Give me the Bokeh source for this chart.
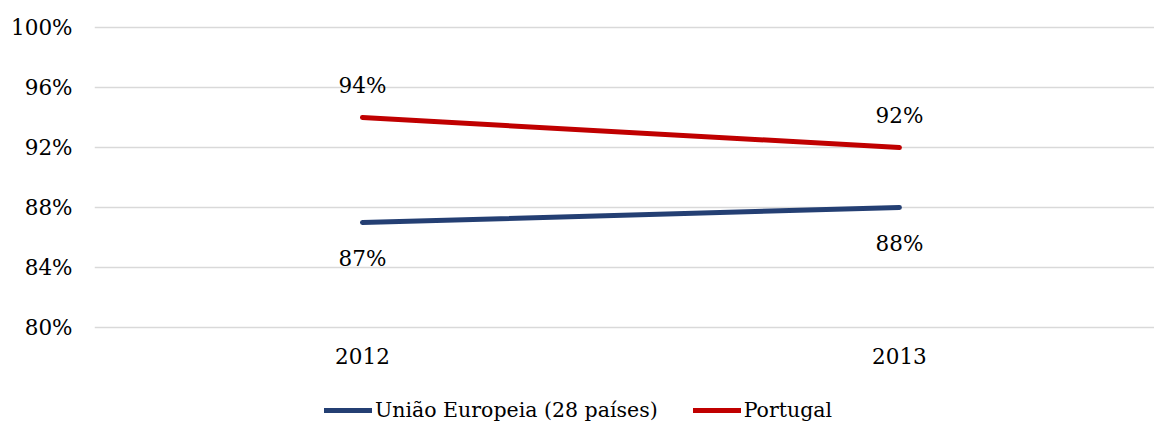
from bokeh.plotting import figure
from bokeh.layouts import column
from bokeh.models import FixedTicker, Range1d, Legend, LegendItem, ColumnDataSource
from bokeh.embed import file_html
from bokeh.resources import INLINE
from bokeh.core.properties import value

years = ["2012", "2013"]
eu_values = [87, 88]
pt_values = [94, 92]
y_ticks = [80, 84, 88, 92, 96, 100]
series_names = ["União Europeia (28 países)", "Portugal"]

FONT = "DejaVu Serif"
FS = "21.5px"
xs = list(range(len(years)))

p = figure(frame_width=1060, frame_height=320, output_backend="svg", toolbar_location=None,
           x_range=Range1d(-0.499, 1.475), y_range=Range1d(79.333, 100.667),
           min_border_left=94, min_border_right=0, min_border_top=17, min_border_bottom=50)
p.outline_line_color = None

p.xgrid.grid_line_color = None
p.ygrid.grid_line_color = "#d9d9d9"
p.ygrid.grid_line_width = 1.5

p.yaxis.ticker = FixedTicker(ticks=y_ticks)
p.yaxis.major_label_overrides = {t: f"{t}%" for t in y_ticks}
p.xaxis.ticker = FixedTicker(ticks=xs)
p.xaxis.major_label_overrides = {i: y for i, y in enumerate(years)}
for ax in (p.xaxis, p.yaxis):
    ax.axis_line_color = None
    ax.major_tick_line_color = None
    ax.minor_tick_line_color = None
    ax.major_tick_out = 0
    ax.major_tick_in = 0
    ax.major_label_text_font = FONT
    ax.major_label_text_font_size = FS
    ax.major_label_text_color = "black"
p.yaxis.major_label_standoff = 22
p.xaxis.major_label_standoff = 10

eu_color = "#243F73"
pt_color = "#C00000"

src_eu = ColumnDataSource(dict(x=xs, y=eu_values, t=[f"{v}%" for v in eu_values]))
src_pt = ColumnDataSource(dict(x=xs, y=pt_values, t=[f"{v}%" for v in pt_values]))

p.line("x", "y", source=src_eu, line_color=eu_color, line_width=5, line_cap="round")
p.line("x", "y", source=src_pt, line_color=pt_color, line_width=5, line_cap="round")

p.text("x", "y", text="t", source=src_pt, text_font=value(FONT), text_font_size=FS,
       text_align="center", text_baseline="middle", y_offset=-32, text_color="black")
p.text("x", "y", text="t", source=src_eu, text_font=value(FONT), text_font_size=FS,
       text_align="center", text_baseline="middle", y_offset=36, text_color="black")

# legend-only strip below the chart
lf = figure(width=1154, height=38, output_backend="svg", toolbar_location=None,
            x_range=Range1d(10, 11), y_range=Range1d(10, 11),
            min_border=0, x_axis_location=None, y_axis_location=None)
lf.outline_line_color = None
lf.grid.visible = False
l_eu = lf.line("x", "y", source=src_eu, line_color=eu_color, line_width=5, line_cap="round")
l_pt = lf.line("x", "y", source=src_pt, line_color=pt_color, line_width=5, line_cap="round")

legend = Legend(items=[LegendItem(label=series_names[0], renderers=[l_eu]),
                       LegendItem(label=series_names[1], renderers=[l_pt])],
                orientation="horizontal", location=(230, 2))
legend.label_text_font = FONT
legend.label_text_font_size = "20.5px"
legend.label_text_color = "black"
legend.label_height = 26
legend.glyph_height = 26
legend.glyph_width = 48
legend.label_standoff = 3
legend.spacing = 35
legend.border_line_color = None
legend.background_fill_alpha = 0
legend.padding = 0
legend.margin = 0
lf.add_layout(legend, "center")

layout = column(p, lf, spacing=0)
open("out.html", "w").write(file_html(layout, INLINE))
